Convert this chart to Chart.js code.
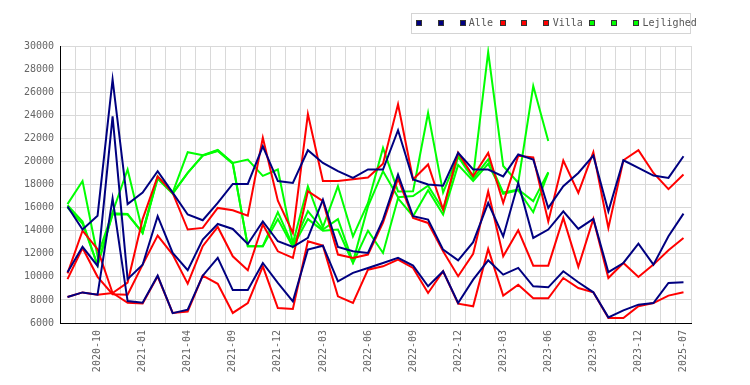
<!DOCTYPE html>
<html>
<head>
<meta charset="utf-8">
<script src="https://cdn.jsdelivr.net/npm/chart.js@4.4.1/dist/chart.umd.min.js"></script>
<style>
html,body{margin:0;padding:0;background:#fff;}
#wrap{width:750px;height:385px;}
</style>
</head>
<body>
<div id="wrap"><canvas id="c" width="750" height="385"></canvas></div>
<script>
const categories = ['2020-08','2020-09','2020-10','2020-11','2020-12','2021-01','2021-02','2021-03','2021-04','2021-06','2021-07','2021-09','2021-10','2021-11','2021-12','2022-01','2022-02','2022-03','2022-04','2022-05','2022-06','2022-07','2022-08','2022-09','2022-10','2022-11','2022-12','2023-01','2023-02','2023-03','2023-04','2023-05','2023-06','2023-07','2023-08','2023-09','2023-10','2023-11','2023-12','2024-06','2025-01','2025-07'];

const alleHigh = [16100,14100,15300,27100,16300,17300,19150,17300,15400,14900,16400,18050,18050,21300,18300,18140,20970,19870,19150,18570,19300,19300,22700,18430,18000,17900,20740,19300,19300,18700,20600,20160,15970,17850,19000,20500,15680,20100,19440,18770,18570,20450];
const alleMid  = [10400,12600,10950,23900,9800,11050,15250,12070,10570,13220,14580,14150,12850,14800,13080,12590,13370,16690,12590,12210,12070,14960,18860,15250,14960,12360,11430,13000,16400,13500,18140,13370,14100,15680,14150,15020,10400,11200,12880,11060,13510,15480];
const alleLow  = [8250,8650,8450,16800,7900,7750,10100,6850,7150,10100,11650,8850,8850,11200,9470,7880,12360,12700,9610,10340,10770,11200,11640,10970,9180,10480,7730,9760,11430,10190,10770,9180,9090,10480,9530,8660,6490,7100,7590,7730,9470,9530];

const villaHigh = [10300,14000,12400,8600,9500,15000,18700,17270,14100,14240,15970,15770,15300,22050,16600,13800,24100,18300,18300,18450,18600,19800,24950,18440,19740,15830,20750,18720,20740,16400,20480,20350,14800,20070,17280,20800,14240,20100,20980,19000,17600,18870];
const villaMid  = [9800,12500,10000,8500,8450,11060,13570,11930,9410,12650,14320,11780,10570,14530,12210,11640,17420,16550,11930,11640,11930,14700,18500,15100,14670,12210,10050,12000,17400,11780,14030,10970,10970,15100,10860,15020,9900,11200,9990,11060,12300,13370];
const villaLow  = [8250,8650,8450,8600,7750,7700,10050,6870,7000,10100,9400,6870,7730,10910,7300,7210,13080,12700,8310,7730,10620,10910,11490,10770,8600,10480,7680,7450,12420,8370,9320,8140,8140,9900,9030,8660,6430,6430,7450,7730,8370,8660];

const lejHigh = [16300,18300,11800,15600,19300,13900,18700,17300,20800,20540,21000,19870,20160,18750,19300,12900,17850,14300,17850,13500,16400,21170,17400,17420,24200,17300,20500,18700,29480,19600,18150,26530,21760,null,null,null,null,null,null,null,null,null];
const lejMid  = [16200,14800,11000,15500,15450,13800,18600,17250,19000,20500,20950,19850,12650,12650,15600,12700,15700,14100,15000,11300,16100,19150,16900,17000,17900,15800,20400,18500,20170,17300,17570,16560,19070,null,null,null,null,null,null,null,null,null];
const lejLow  = [16000,14600,11000,15400,15400,13800,18500,17200,19000,20500,20900,19800,12650,12650,15000,12600,15000,14000,14100,11200,14000,12070,16800,15250,17500,15400,19700,18300,19800,17200,17500,15600,19000,null,null,null,null,null,null,null,null,null];

const seriesLabels = [' ',' ','Alle',' ',' ','Villa',' ',' ','Lejlighed'];
const yTicks = {min: 6000, max: 30000, step: 2000};

const NAVY = '#000080', RED = '#ff0000', GREEN = '#00ff00';
function ds(label, data, color) {
  return {label, data, borderColor: color, backgroundColor: color, borderWidth: 2,
          pointRadius: 0, pointHoverRadius: 0, tension: 0, fill: false, spanGaps: false};
}

const legendBox = {
  id: 'legendBox',
  afterDraw(chart) {
    const ctx = chart.ctx;
    ctx.save();
    ctx.strokeStyle = '#d4d4d4';
    ctx.lineWidth = 1;
    ctx.strokeRect(411.5, 13.5, 279, 20);
    ctx.font = '10px "DejaVu Sans Mono"';
    ctx.textBaseline = 'middle';
    ctx.textAlign = 'left';
    let x = 415.7;
    chart.data.datasets.forEach(d => {
      const bx = Math.round(x);
      ctx.fillStyle = d.borderColor;
      ctx.fillRect(bx, 20, 6, 6);
      ctx.strokeStyle = '#333';
      ctx.strokeRect(bx + 0.5, 20.5, 5, 5);
      ctx.fillStyle = '#555';
      ctx.fillText(d.label, x + 9.3, 23.5);
      x += ctx.measureText(d.label).width + 15.9;
    });
    ctx.restore();
  }
};

new Chart(document.getElementById('c'), {
  type: 'line',
  data: {
    labels: categories,
    datasets: [
      ds(seriesLabels[0], alleLow, NAVY),
      ds(seriesLabels[1], alleMid, NAVY),
      ds(seriesLabels[2], alleHigh, NAVY),
      ds(seriesLabels[3], villaLow, RED),
      ds(seriesLabels[4], villaMid, RED),
      ds(seriesLabels[5], villaHigh, RED),
      ds(seriesLabels[6], lejLow, GREEN),
      ds(seriesLabels[7], lejMid, GREEN),
      ds(seriesLabels[8], lejHigh, GREEN)
    ]
  },
  options: {
    responsive: false,
    animation: false,
    devicePixelRatio: 1,
    layout: {padding: {top: 46, right: 59, bottom: 0, left: 0}},
    plugins: {legend: {display: false}, tooltip: {enabled: false}},
    scales: {
      x: {
        type: 'category',
        offset: true,
        grid: {offset: true, color: '#d9d9d9', lineWidth: 1, drawTicks: false},
        border: {color: '#000', width: 1},
        ticks: {
          autoSkip: false, maxRotation: 90, minRotation: 90, padding: 7,
          color: '#666', font: {family: '"DejaVu Sans Mono"', size: 10},
          callback: function(v, i) { return i % 3 === 2 ? categories[i] : ''; }
        },
        afterFit: function(s) { s.height = 62; }
      },
      y: {
        min: yTicks.min, max: yTicks.max,
        grid: {color: '#d9d9d9', lineWidth: 1, drawTicks: false},
        border: {color: '#000', width: 1},
        ticks: {stepSize: yTicks.step, padding: 6, color: '#666',
                font: {family: '"DejaVu Sans Mono"', size: 10},
                callback: function(v) { return String(v); }},
        afterFit: function(s) { s.width = 60; }
      }
    }
  },
  plugins: [legendBox]
});
</script>
</body>
</html>
